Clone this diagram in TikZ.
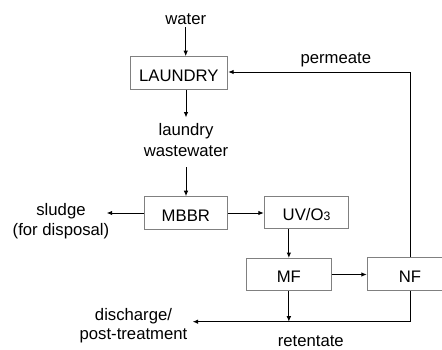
\documentclass[tikz,border=0pt]{standalone}
\usepackage{fontspec}
\setmainfont{Liberation Sans}
\usetikzlibrary{arrows.meta}
\definecolor{boxgrey}{HTML}{808080}
\begin{document}
\begin{tikzpicture}[x=1pt,y=-1pt,
  every node/.style={font=\fontsize{16.7}{19.5}\selectfont},
  box/.style={draw=boxgrey, line width=1pt, minimum height=32.6pt, text height=16.5pt, text depth=0pt, inner sep=0pt},
  lbl/.style={anchor=base, align=center, inner sep=2pt},
  arr/.style={line width=1pt, -{Latex[length=5.5pt,width=4.6pt]}}]
\useasboundingbox (0,0) rectangle (442,349);
\clip (0,0) rectangle (442,349);

% boxes
\node[box, minimum width=97.7pt] (laundry) at (178.85,73) {LAUNDRY};
\node[box, minimum width=83.7pt] (mbbr) at (185.85,213) {MBBR};
\node[box, minimum width=84.4pt] (uv) at (306.5,212.6) {UV/O{\fontsize{12.2}{12}\selectfont 3}};
\node[box, minimum width=84.3pt, minimum height=32pt] (mf) at (288.85,274.5) {MF};
\node[box, minimum width=85.4pt, minimum height=32.3pt] (nf) at (410,274) {NF};

% labels (base anchor = baseline of last line)
\node[lbl] (water) at (185.7,24.7) {water};
\node[lbl] (perm) at (335.8,63.3) {permeate};
\node[lbl, font=\fontsize{16.7}{20.3}\selectfont] (ww) at (186,156) {laundry\\wastewater};
\node[lbl, font=\fontsize{16.7}{19.7}\selectfont] (sludge) at (61,235) {sludge\\(for disposal)};
\node[lbl, font=\fontsize{16.7}{18.6}\selectfont] (dis) at (133.5,339.3) {discharge/\\post-treatment};
\node[lbl] (ret) at (310.8,346) {retentate};

% helper coordinates
\coordinate (pc) at (410,72);
\coordinate (rc) at (410,321.7);
\coordinate (dc) at (192.7,321.7);
\coordinate (sc) at (106.7,213);

% connectors
\draw[arr] (water.south) -- (water.south |- laundry.north);
\draw[arr] (laundry.south -| ww.north) -- ++(0,27.7);
\draw[arr, shorten <=9pt] (ww.south) -- (ww.south |- mbbr.north);
\draw[arr] (mbbr.west) -- (sc);
\draw[arr] (mbbr.east) -- (mbbr.east -| uv.west);
\draw[arr] (uv.south -| mf.north) -- (mf.north);
\draw[arr] (mf.east) -- (mf.east -| nf.west);
\draw[arr] (nf.north) -- (pc) -- (pc -| laundry.east);
\draw[arr] (nf.south) -- (rc) -- (dc);
\draw[arr] (mf.south) -- (mf.south |- rc);
\end{tikzpicture}
\end{document}
